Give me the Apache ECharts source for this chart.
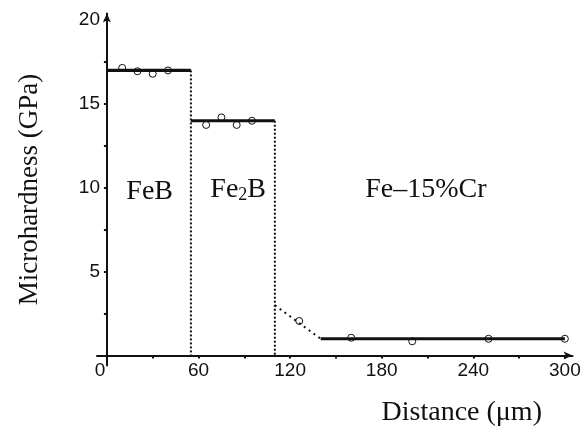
<!DOCTYPE html>
<html>
<head>
<meta charset="utf-8">
<script src="https://cdn.jsdelivr.net/npm/echarts@6/dist/echarts.min.js"></script>
<style>
  html, body { margin: 0; padding: 0; background: #fff; }
  #chart { width: 587px; height: 428px; }
</style>
</head>
<body>
<div id="chart"></div>
<script>
// Microhardness profile across the boride layers into the Fe–15%Cr substrate
const xTicks = [0, 30, 60, 90, 120, 150, 180, 210, 240, 270, 300];
const xTickLabels = [0, 60, 120, 180, 240, 300];
const yTicks = [0, 2.5, 5, 7.5, 10, 12.5, 15, 17.5, 20];
const yTickLabels = [5, 10, 15, 20];

// measured indents (distance µm, hardness GPa)
const feBPoints = [[10, 17.15], [20, 16.95], [30, 16.8], [40, 17.0]];
const fe2BPoints = [[65, 13.75], [75, 14.2], [85, 13.75], [95, 14.0]];
const transitionPoints = [[126, 2.06]];
const matrixPoints = [[160, 1.06], [200, 0.85], [250, 1.0], [300, 1.0]];

// mean hardness of each zone
const feBLevel = [[0, 17], [55, 17]];
const fe2BLevel = [[55, 14], [110, 14]];
const matrixLevel = [[140, 1], [300, 1]];
// layer boundaries and diffusion zone
const feBBoundary = [[55, 17], [55, 0]];
const fe2BBoundary = [[110, 14], [110, 0]];
const transitionLine = [[110, 3], [140, 1]];

// zone names placed in data space
const phaseLabels = [
  ['FeB', 28, 9.8],
  ['{n|Fe}{s|2}{n|B}', 86, 9.9],
  ['Fe–15%Cr', 209, 9.9]
];

const ink = '#111';
const serif = '"Liberation Serif", "DejaVu Serif", serif';
const sans = '"Liberation Sans", Arial, sans-serif';

const chart = echarts.init(document.getElementById('chart'), null, { renderer: 'canvas' });

function levelSeries(data, width, type) {
  return {
    type: 'line',
    data: data,
    symbol: 'none',
    silent: true,
    lineStyle: { color: ink, width: width, type: type }
  };
}

function pointSeries(data) {
  return {
    type: 'scatter',
    data: data,
    symbol: 'circle',
    symbolSize: 7,
    silent: true,
    itemStyle: { color: 'rgba(255,255,255,0)', borderColor: ink, borderWidth: 1, opacity: 1 },
    z: 5
  };
}

chart.setOption({
  animation: false,
  backgroundColor: '#fff',
  grid: { left: 97, right: 14.5, top: 13.4, bottom: 62.4, containLabel: false, outerBoundsMode: 'none' },
  xAxis: {
    type: 'value',
    min: -6.5,
    max: 305,
    name: 'Distance (μm)',
    nameLocation: 'middle',
    nameGap: 33,
    nameTextStyle: { fontFamily: serif, fontSize: 28, color: ink, padding: [0, 0, 0, 254] },
    axisLine: {
      onZero: true,
      lineStyle: { color: ink, width: 2 },
      symbol: ['none', 'arrow'],
      symbolSize: [6, 9]
    },
    axisTick: { show: true, customValues: xTicks, length: 3, lineStyle: { color: ink, width: 2 } },
    axisLabel: {
      customValues: xTickLabels,
      margin: -4,
      fontFamily: sans,
      fontSize: 19,
      color: ink,
      formatter: function (v) { return v === 0 ? '{z|0}' : String(v); },
      rich: { z: { fontFamily: sans, fontSize: 19, color: ink, padding: [0, 14, 0, 0] } }
    },
    splitLine: { show: false }
  },
  yAxis: {
    type: 'value',
    min: -0.6,
    max: 20.4,
    name: 'Microhardness (GPa)',
    nameLocation: 'middle',
    nameGap: 54,
    nameTextStyle: { fontFamily: serif, fontSize: 27, color: ink },
    axisLine: {
      onZero: true,
      lineStyle: { color: ink, width: 2 },
      symbol: ['none', 'arrow'],
      symbolSize: [6, 9]
    },
    axisTick: { show: true, customValues: yTicks, length: 3, lineStyle: { color: ink, width: 2 } },
    axisLabel: {
      customValues: yTickLabels,
      margin: -3,
      fontFamily: sans,
      fontSize: 19,
      color: ink
    },
    splitLine: { show: false }
  },
  series: [
    levelSeries(feBBoundary, 2, [2, 2]),
    levelSeries(fe2BBoundary, 2, [2, 2]),
    levelSeries(transitionLine, 2, [2, 4]),
    levelSeries(feBLevel, 3.2),
    levelSeries(fe2BLevel, 3.2),
    levelSeries(matrixLevel, 3.2),
    pointSeries(feBPoints),
    pointSeries(fe2BPoints),
    pointSeries(transitionPoints),
    pointSeries(matrixPoints),
    {
      type: 'scatter',
      data: phaseLabels.map(function (p) { return { value: [p[1], p[2]], name: p[0] }; }),
      symbolSize: 0,
      silent: true,
      itemStyle: { opacity: 1 },
      label: {
        show: true,
        position: 'inside',
        formatter: function (p) { return p.name; },
        fontFamily: serif,
        fontSize: 28,
        color: ink,
        textBorderWidth: 0,
        rich: {
          n: { fontFamily: serif, fontSize: 28, color: ink, textBorderWidth: 0 },
          s: { fontFamily: serif, fontSize: 18, color: ink, textBorderWidth: 0, verticalAlign: 'bottom', padding: [12, 0, 0, 0] }
        }
      }
    }
  ]
});
</script>
</body>
</html>
